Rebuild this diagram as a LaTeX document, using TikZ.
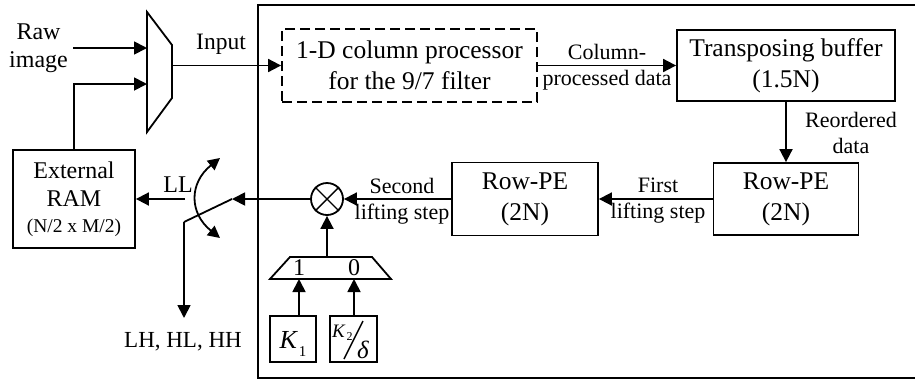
\documentclass[tikz,border=0pt]{standalone}
\usepackage{fontspec}
\setmainfont{Liberation Serif}
\usetikzlibrary{arrows.meta}
\begin{document}
\begin{tikzpicture}[x=1pt,y=-1pt,
  box/.style={draw, line width=1.8pt, inner sep=0pt, align=center, font=\fontsize{25.5}{31}\selectfont},
  lab/.style={inner sep=0pt, align=center, font=\fontsize{22}{26}\selectfont},
  biglab/.style={inner sep=0pt, align=center, font=\fontsize{24}{28}\selectfont},
  wire/.style={line width=1.8pt},
  arr/.style={line width=1.8pt, -{Triangle[length=13pt,width=13pt]}},
  darr/.style={line width=1.8pt, {Triangle[length=12pt,width=12pt]}-{Triangle[length=12pt,width=12pt]}},
]
\useasboundingbox (0,0) rectangle (915,381);
% outer frame (open to the right)
\draw[line width=1.5pt] (915,5) -- (258,5) -- (258,378) -- (915,378);

% left multiplexer
\draw[wire] (147,12) -- (172,45) -- (172,98) -- (147,132) -- cycle;
\coordinate (mi1) at (147,48);
\coordinate (mi2) at (147,84);
\coordinate (mo) at (172,65.5);

\node[biglab] (raw) at (38.5,48) {Raw\\image};
\coordinate (rawend) at (73,48);
\draw[arr] (rawend) -- (mi1);

\node[box, minimum width=122pt, minimum height=98pt, font=\fontsize{24}{28.5}\selectfont] (ram) at (74,199)
  {External\\RAM\\[-3pt]{\fontsize{19.5}{22}\selectfont (N/2 x M/2)}};
\draw[arr] (ram.north) |- (mi2);

% column processor
\node[box, dash pattern=on 10pt off 5pt, minimum width=255pt, minimum height=73pt] (colp) at (409.5,65.5)
  {1-D column processor\\for the 9/7 filter};
\draw[arr] (mo) -- (colp.west);
\node[biglab, font=\fontsize{23.5}{28}\selectfont] (input) at (221,44) {Input};

% transposing buffer
\node[box, minimum width=218pt, minimum height=71pt] (tb) at (786,65.5) {Transposing buffer\\(1.5N)};
\draw[arr] (colp.east) -- (tb.west);
\node[lab] (cpd) at (607,67) {Column-\\processed data};

% row PEs
\node[box, minimum width=145pt, minimum height=72pt] (rpe1) at (786,199) {Row-PE\\(2N)};
\draw[arr] (tb.south) -- (rpe1.north);
\node[lab] (reo) at (851,133) {Reordered\\data};

\node[box, minimum width=146pt, minimum height=73pt] (rpe2) at (525,199) {Row-PE\\(2N)};
\draw[arr] (rpe1.west) -- (rpe2.east);
\node[lab] (fls) at (658,201) {First\\lifting step};

% multiplier
\node[draw, circle, line width=1.8pt, minimum size=32pt, inner sep=0pt] (mult) at (327,199) {};
\draw[line width=1.4pt] (mult.north east) -- (mult.south west) (mult.north west) -- (mult.south east);
\draw[arr] (rpe2.west) -- (mult.east);
\node[lab] (sls) at (402,201) {Second\\lifting step};

% switch
\coordinate (sw1) at (232,199);
\coordinate (sw2) at (184,222);
\coordinate (lhtip) at (184,318);
\coordinate (llstart) at (185,199);
\draw[arr] (mult.west) -- (sw1);
\draw[wire] (sw1) -- (sw2);
\draw[arr] (sw2) -- (lhtip);
\node[biglab, font=\fontsize{23}{27}\selectfont] (lhl) at (183,342) {LH, HL, HH};
\draw[arr] (llstart) -- (ram.east);
\node[biglab] (ll) at (178,185) {LL};
\coordinate (arcA) at (220,158);
\coordinate (arcB) at (220,238);
\draw[darr] (arcA) .. controls (189,183) and (189,213) .. (arcB);

% bottom multiplexer
\draw[wire] (290,257) -- (372,257) -- (391,279) -- (270,279) -- cycle;
\coordinate (bmo) at (327,257);
\coordinate (bin1) at (299,279);
\coordinate (bin0) at (354,279);
\node[biglab] (one) at (299,268) {1};
\node[biglab] (zero) at (354,268) {0};
\draw[arr] (bmo) -- (mult.south);

% constant boxes
\node[box, minimum size=46pt, text height=19pt, text depth=0pt] (k1) at (293,339)
  {{\fontsize{26}{26}\selectfont\itshape K}\kern2pt\raisebox{-8pt}{\fontsize{15}{15}\selectfont 1}};
\node[box, minimum width=47pt, minimum height=46pt] (k2) at (353.5,339) {};
\node[inner sep=0pt, anchor=base west, font=\fontsize{19}{19}\selectfont] (k2k) at (332,337)
  {\textit{K}\kern1pt\raisebox{-3pt}{\fontsize{12}{12}\selectfont 2}};
\draw[line width=1.4pt] (344,359) -- (363,321);
\node[inner sep=0pt, anchor=base west, font=\fontsize{25}{25}\selectfont\itshape] (k2d) at (357,358) {δ};
\draw[arr] (k1.north -| bin1) -- (bin1);
\draw[arr] (k2.north -| bin0) -- (bin0);
\end{tikzpicture}
\end{document}
